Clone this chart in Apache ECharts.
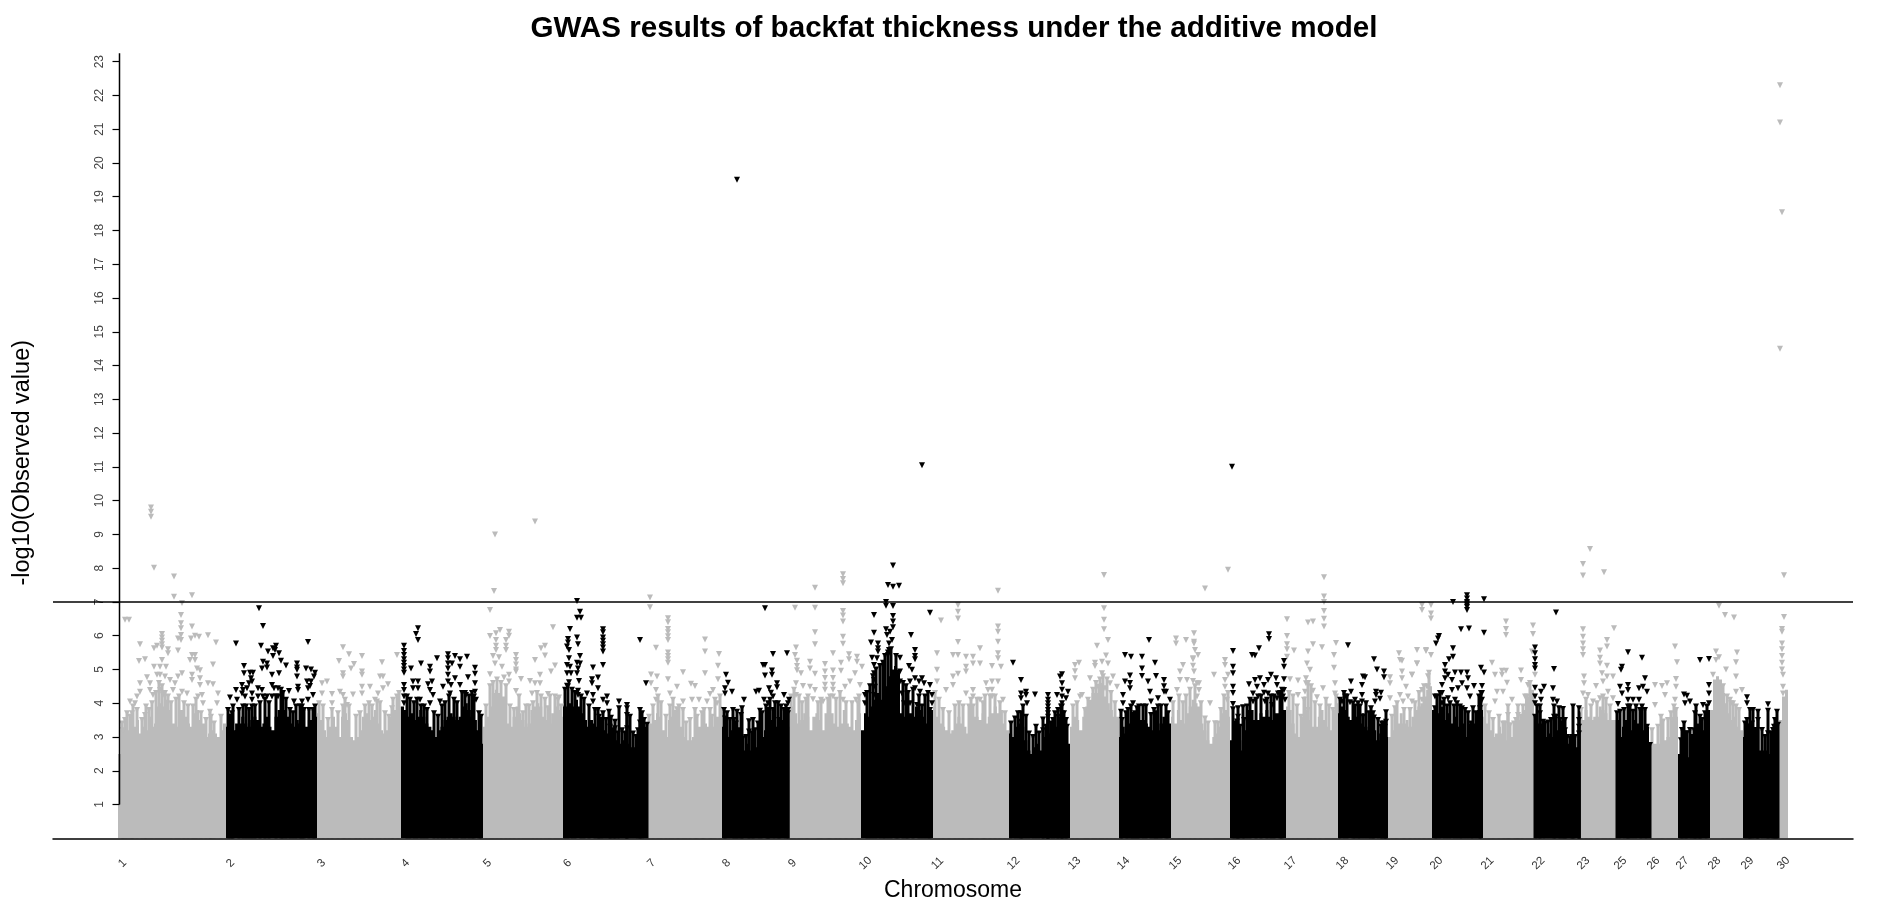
<!DOCTYPE html>
<html><head><meta charset="utf-8">
<style>html,body{margin:0;padding:0;background:#fff}#c{width:1883px;height:902px}</style>
<script src="https://cdn.jsdelivr.net/npm/echarts@6/dist/echarts.min.js"></script>
</head><body><div id="c"></div>
<script>
const chrNames=['1','2','3','4','5','6','7','8','9','10','11','12','13','14','15','16','17','18','19','20','21','22','23','25','26','27','28','29','30'];
const chrLengths=[108,91,84,82,80,84,75,66,73,72,76,61,49,52,59,56,52,50,44,51,51,45,37,33,29,32,33,36,9];
const yTicks=[1,2,3,4,5,6,7,8,9,10,11,12,13,14,15,16,17,18,19,20,21,22,23];
const threshold=7;

const chr1Tops=[2.5,2.8,3.0,3.2,3.0,3.3,3.5,3.1,3.3,3.2,3.6,3.3,3.4,3.9,4.0,3.9,4.1,3.8,3.4,3.3,3.8,3.8,3.6,3.4,3.3,3.7,3.8,3.5,3.4,3.0,3.1,3.2,3.1,3.0,3.2,3.4];
const chr1Hits=[[33,9.8],[33,9.67],[33,9.52],[36,8.01],[56,7.75],[56,7.15],[74,7.2],[64,6.97],[7,6.47],[11,6.47],[22,5.75],[21,5.25],[27,5.3],[36,5.63],[39,5.7],[44,6.05],[44,5.95],[44,5.85],[44,5.75],[44,5.65],[50,5.6],[50,5.48],[36,5.08],[44,5.28],[42,5.08],[48,5.08],[29,4.77],[39,4.84],[42,4.84],[47,4.79],[22,4.59],[32,4.59],[52,4.69],[57,4.59],[64,4.89],[60,4.79],[63,6.61],[63,6.37],[63,6.22],[63,6.02],[60,5.92],[63,5.87],[60,5.56],[74,6.27],[73,5.92],[77,6.0],[81,5.97],[90,6.01],[98,5.8],[95,5.15],[74,5.43],[77,5.43],[72,5.28],[77,5.28],[74,4.84],[79,5.03],[82,4.98],[82,4.74],[74,4.69],[82,4.54],[90,4.59],[95,4.56],[100,4.29],[80,4.2],[84,4.24],[85,4.0],[99,4.0],[92,3.75],[12,4.05],[19,4.2],[22,4.34],[32,4.39],[35,4.24],[42,4.39],[45,4.24],[55,4.39],[64,4.34],[69,4.29],[7,3.5],[14,3.7],[17,4.0],[27,3.65],[5,3.2]];
const chr1Dense=[[4,3.4],[9,3.7],[12,3.6],[15,3.9],[19,3.8],[24,3.5],[28,3.9],[31,3.8],[34,4.0],[38,4.3],[41,4.6],[44,4.5],[47,4.3],[50,4.2],[53,4.0],[58,4.1],[61,4.2],[66,4.0],[70,3.9],[75,3.9],[78,4.1],[83,3.7],[88,3.5],[93,3.6],[96,3.4],[103,3.6]];
const chr2Tops=[3.3,3.5,3.2,3.4,3.4,3.6,3.4,3.3,3.5,3.6,3.5,3.3,3.4,3.6,3.3,3.2,3.6,3.8,3.9,3.8,3.6,3.4,3.3,3.5,3.4,3.2,3.3,3.5,3.5,3.6];
const chr2Hits=[[10,5.77],[33,6.81],[37,6.29],[35,5.7],[82,5.81],[18,5.1],[18,4.89],[24,4.9],[27,4.9],[25,4.74],[26,4.64],[23,4.59],[4,4.17],[10,4.39],[16,4.54],[17,4.39],[21,4.44],[16,4.29],[19,4.2],[11,4.1],[7,3.9],[4,3.6],[17,3.9],[26,4.29],[26,4.1],[26,3.9],[37,5.23],[41,5.18],[36,5.03],[41,5.06],[42,5.53],[47,5.63],[50,5.7],[49,5.58],[53,5.48],[47,5.4],[55,5.26],[60,5.12],[46,4.84],[53,4.89],[71,5.18],[71,5.06],[71,4.99],[71,4.79],[72,4.49],[72,4.39],[80,5.03],[85,5.0],[89,4.9],[88,4.79],[81,4.64],[85,4.64],[82,4.44],[84,4.51],[82,4.1],[87,4.24],[32,4.44],[36,4.39],[37,4.2],[32,4.2],[41,4.2],[46,4.54],[48,4.44],[52,4.44],[52,4.2],[46,4.2],[68,4.05],[76,4.05],[76,3.9],[63,4.36]];
const chr2Dense=[[2,3.8],[6,3.7],[13,3.8],[20,3.9],[23,3.8],[29,3.9],[34,4.0],[39,4.1],[43,4.0],[50,4.2],[55,4.4],[57,4.3],[60,4.1],[64,3.8],[67,3.7],[70,3.9],[74,3.9],[78,3.8],[83,3.8],[87,3.8],[89,3.9]];
const chr3Tops=[3.7,3.5,3.2,3.0,3.3,3.6,3.3,3.0,3.6,3.7,3.5,3.0,2.9,3.0,3.2,3.6,3.7,3.5,3.6,3.8,3.4,3.2,3.1,3.2,3.6,3.8,3.8,3.9];
const chr3Hits=[[26,5.66],[32,5.45],[22,5.25],[45,5.4],[37,5.16],[34,5.03],[65,5.21],[80,5.43],[10,4.64],[5,4.59],[26,4.89],[26,4.79],[45,4.94],[45,4.84],[63,4.79],[66,4.79],[71,4.56],[5,4.29],[15,4.27],[23,4.34],[26,4.24],[36,4.26],[45,4.49],[53,4.49],[61,4.29],[45,4.29],[58,4.1],[66,4.44],[75,3.85],[26,3.9],[30,3.95],[15,4.0]];
const chr3Dense=[[2,4.0],[6,3.9],[11,3.5],[15,3.8],[21,3.7],[28,4.1],[32,3.9],[39,3.6],[43,3.7],[48,3.9],[52,4.0],[55,3.9],[60,4.05],[63,4.0],[68,3.7],[72,3.6],[76,4.1],[80,4.2],[82,4.3]];
const chr4Tops=[3.9,3.8,3.6,3.7,3.5,3.6,3.8,3.6,3.4,3.3,3.2,3.0,3.2,3.3,3.5,3.6,3.7,3.6,3.5,3.6,3.9,4.0,3.8,3.6,3.5,3.2,2.8];
const chr4Hits=[[3,5.7],[3,5.55],[3,5.43],[3,5.3],[3,5.2],[3,5.1],[3,5.0],[3,4.9],[3,4.54],[3,4.39],[3,4.2],[3,4.0],[17,6.22],[15,6.05],[17,5.87],[20,5.18],[10,5.03],[12,4.64],[17,4.64],[12,4.44],[17,4.44],[29,5.08],[29,4.94],[36,5.33],[47,5.45],[47,5.33],[54,5.4],[59,5.3],[66,5.38],[51,5.18],[47,5.18],[59,5.08],[74,5.05],[74,4.87],[74,4.59],[67,4.77],[47,5.03],[47,4.84],[47,4.64],[50,4.54],[54,4.74],[59,4.54],[31,4.64],[27,4.56],[29,4.39],[32,4.24],[42,4.49],[39,4.05],[49,4.29],[65,4.24],[74,4.34],[75,4.1],[19,4.1],[29,4.0]];
const chr4Dense=[[6,4.2],[9,4.1],[13,4.0],[16,4.1],[20,3.9],[23,3.9],[26,3.8],[33,3.7],[37,3.6],[41,3.9],[44,4.0],[48,4.2],[53,4.1],[56,4.0],[61,4.3],[64,4.3],[68,4.2],[71,4.3],[73,4.2],[78,3.7],[80,3.6]];
const chr5Tops=[3.3,3.6,3.9,4.3,4.4,4.3,4.2,4.2,3.4,3.3,3.6,3.9,3.7,3.5,3.3,3.4,3.8,3.9,4.0,3.9,3.6,3.5,3.4,3.7,3.9,3.8,3.6];
const chr5Hits=[[12,9.0],[11,7.32],[7,6.76],[17,6.17],[13,6.07],[7,5.99],[26,6.12],[26,6.0],[13,5.87],[13,5.7],[13,5.58],[23,5.87],[23,5.7],[23,5.58],[10,5.4],[16,5.36],[33,5.43],[33,5.28],[33,5.15],[33,5.0],[33,4.94],[12,5.18],[19,5.08],[7,4.86],[21,4.76],[26,4.84],[26,4.64],[38,4.72],[52,5.28],[58,5.63],[62,5.7],[62,5.41],[70,6.25],[68,4.94],[72,5.12],[47,4.66],[57,4.84],[57,4.59],[52,4.59],[33,4.36],[49,4.29],[65,4.27],[76,4.17],[40,3.7],[46,3.9],[65,3.85],[52,9.38]];
const chr5Dense=[[3,3.9],[7,4.5],[10,4.6],[14,4.7],[18,4.6],[23,4.5],[27,3.9],[31,3.8],[36,4.2],[43,3.9],[50,4.0],[54,4.3],[58,4.2],[62,4.1],[67,4.2],[72,4.2],[75,4.1],[78,3.9]];
const chr6Tops=[3.9,3.9,4.0,3.9,4.1,3.9,3.7,3.5,3.3,3.5,3.4,3.3,3.3,3.2,3.1,3.0,2.9,2.9,2.8,2.8,2.9,2.8,2.7,2.7,2.9,3.1,3.2,3.3];
const chr6Hits=[[14,7.03],[17,6.71],[14,6.53],[18,6.53],[7,6.2],[14,5.95],[15,5.75],[5,5.9],[5,5.8],[4,5.68],[6,5.58],[17,5.4],[6,5.33],[14,5.2],[17,5.18],[4,5.13],[7,5.08],[15,5.03],[4,4.89],[8,4.89],[14,4.89],[16,4.66],[6,4.62],[4,4.52],[15,4.37],[15,4.24],[40,6.19],[40,6.1],[40,5.95],[40,5.85],[40,5.75],[40,5.65],[40,5.53],[40,5.13],[77,5.87],[30,5.06],[35,4.76],[29,4.71],[29,4.59],[35,4.44],[24,4.29],[30,4.24],[40,4.1],[44,4.2],[44,4.0],[56,4.05],[64,3.95],[56,3.85],[64,3.85],[83,4.59],[77,3.8],[79,3.7],[35,3.8],[46,3.75],[64,3.65],[67,3.6],[40,3.7],[30,4.05],[52,3.45],[48,3.57],[64,3.26],[52,3.26],[77,3.43],[84,3.36]];
const chr6Dense=[[2,4.4],[5,4.5],[9,4.4],[12,4.3],[18,4.2],[21,4.1],[26,3.9],[32,3.8],[36,3.6],[38,3.5],[43,3.5],[47,3.3],[50,3.2],[55,3.1],[59,3.2],[62,3.1],[70,3.1],[73,3.0],[75,3.2],[81,3.5]];
const chr7Tops=[3.2,3.4,3.5,3.7,3.6,3.2,3.0,3.5,3.6,3.8,3.6,3.3,3.0,2.9,2.9,3.0,3.1,3.3,3.4,3.4,3.3,3.1,3.3,3.6,3.9];
const chr7Hits=[[3,7.13],[3,6.84],[21,6.52],[21,6.4],[21,6.2],[21,6.1],[21,5.98],[21,5.87],[21,5.5],[21,5.4],[21,5.3],[21,5.2],[9,5.64],[58,5.89],[58,5.53],[36,4.92],[4,4.85],[10,4.79],[4,4.59],[9,4.39],[21,4.71],[30,4.49],[44,4.58],[48,4.51],[58,4.89],[66,4.39],[63,4.27],[72,5.46],[71,5.11],[71,4.71],[9,4.1],[23,4.29],[36,4.05],[45,4.1],[52,4.1],[60,4.05],[70,4.0],[30,3.82],[36,3.8],[48,3.8],[63,3.8]];
const chr7Dense=[[2,3.6],[6,3.9],[11,4.2],[14,4.0],[19,3.6],[23,3.9],[26,4.1],[32,3.9],[39,3.4],[43,3.5],[50,3.6],[55,3.7],[57,3.8],[65,3.6],[68,4.1],[73,4.2]];
const chr8Tops=[3.3,3.3,3.0,3.2,2.8,2.7,2.7,2.6,2.8,2.6,2.5,2.7,2.9,3.0,3.2,3.4,3.5,3.4,3.3,3.4,3.5,3.2];
const chr8Hits=[[15,19.5],[43,6.81],[4,4.84],[6,4.61],[3,4.44],[3,4.29],[10,4.34],[51,5.46],[65,5.48],[41,5.13],[43,5.13],[43,4.82],[50,4.97],[50,4.84],[55,4.59],[55,4.47],[47,4.44],[34,4.34],[37,4.37],[49,4.31],[22,4.1],[51,4.2],[62,4.24],[67,4.1],[42,4.1],[2,3.8],[11,3.8],[15,3.75],[20,3.85],[19,3.65],[3,3.55],[12,3.5],[27,3.47],[31,3.5],[38,3.78],[46,4.0],[46,3.8],[46,3.6],[66,4.0],[66,3.8],[66,3.7],[51,3.8],[57,3.5],[27,3.16],[21,2.96]];
const chr8Dense=[[5,3.7],[8,3.5],[14,3.4],[17,3.2],[24,3.0],[30,3.1],[33,3.2],[36,3.4],[40,3.7],[44,3.9],[48,4.1],[53,4.0],[56,4.0],[59,3.9],[62,3.8],[64,3.9]];
const chr9Tops=[3.3,3.9,3.7,3.4,3.5,3.7,3.6,3.2,3.6,3.7,3.5,3.2,3.7,3.9,3.7,3.4,3.3,3.4,3.8,3.4,3.3,3.2,3.5,3.7];
const chr9Hits=[[7,6.83],[27,7.42],[27,6.83],[27,6.1],[27,5.75],[55,7.82],[55,7.68],[55,7.55],[55,6.73],[55,6.6],[55,6.42],[55,5.97],[55,5.76],[8,5.65],[7,5.43],[9,5.26],[9,5.1],[9,4.98],[22,5.23],[22,5.03],[45,5.48],[37,5.16],[53,5.2],[61,5.45],[61,5.3],[69,5.38],[69,5.23],[74,5.08],[37,4.94],[37,4.75],[37,4.55],[37,4.4],[45,4.97],[45,4.75],[45,4.55],[45,4.4],[13,4.89],[27,4.87],[53,4.96],[67,4.89],[8,4.59],[15,4.51],[22,4.49],[27,4.39],[57,4.49],[62,4.64],[72,4.54],[8,4.24],[25,4.12],[35,4.05],[45,4.2],[55,4.1],[68,4.1]];
const chr9Dense=[[3,4.2],[6,4.4],[11,4.2],[14,4.0],[18,4.1],[20,4.2],[30,4.0],[33,4.1],[40,4.1],[42,4.2],[48,4.1],[52,4.3],[58,4.0],[64,4.0],[70,4.0],[71,4.2]];
const chr10Tops=[3.2,3.7,3.6,3.9,4.1,4.3,4.1,4.3,4.5,4.8,5.0,5.1,4.9,3.7,3.6,3.9,3.7,3.6,3.9,3.8,3.6,3.4,3.7,3.8];
const chr10Hits=[[32,8.08],[27,7.5],[32,7.45],[38,7.48],[25,7.0],[25,6.89],[32,6.88],[32,6.58],[13,6.61],[69,6.68],[32,6.42],[32,6.25],[25,6.19],[29,6.12],[13,6.09],[50,6.02],[26,6.02],[10,5.8],[31,5.87],[17,5.77],[17,5.63],[17,5.53],[28,5.77],[28,5.58],[54,5.58],[54,5.4],[54,5.3],[39,5.35],[11,5.35],[16,5.33],[13,5.13],[13,4.89],[27,5.43],[48,5.1],[51,4.99],[39,4.94],[39,4.64],[69,4.54],[61,4.74],[63,4.59],[54,4.74],[58,4.64],[49,4.64],[54,4.44],[59,4.34],[71,4.24],[71,4.0],[4,4.24],[4,4.0],[13,4.69],[14,4.49],[13,4.24],[49,4.0],[56,3.95],[61,3.9],[69,3.8],[41,4.29],[43,4.0],[61,11.05]];
const chr10Dense=[[6,4.3],[9,4.5],[12,4.8],[15,5.0],[19,5.1],[22,5.2],[24,5.4],[27,5.5],[30,5.6],[35,5.4],[37,4.9],[42,4.6],[45,4.5],[47,4.3],[52,4.4],[58,4.2],[64,4.2],[67,4.3]];
const chr11Tops=[3.9,3.6,3.4,3.3,3.2,3.1,3.2,3.4,3.6,3.4,3.3,3.1,3.5,3.6,3.6,3.5,3.7,3.4,3.6,3.7,3.9,3.7,3.8,3.4,3.2];
const chr11Hits=[[25,6.91],[25,6.71],[25,6.51],[8,6.45],[25,5.81],[65,7.33],[65,6.27],[65,6.12],[65,5.82],[65,5.48],[65,5.33],[4,5.48],[4,4.99],[20,5.43],[25,5.43],[33,5.38],[40,5.38],[40,5.18],[47,5.63],[47,5.18],[59,5.1],[68,5.08],[33,5.08],[33,4.94],[25,4.87],[20,4.79],[20,4.54],[13,4.39],[4,4.64],[53,4.59],[59,4.64],[59,4.4],[59,4.2],[65,4.64],[70,4.1],[40,4.39],[40,4.2],[40,3.9],[33,4.29],[47,4.1],[55,4.39]];
const chr11Dense=[[2,4.3],[6,4.1],[10,3.8],[16,3.7],[22,3.9],[26,4.0],[30,3.9],[36,3.9],[38,4.1],[44,4.1],[50,4.0],[52,4.2],[57,4.2],[62,4.2],[67,4.0],[72,3.7]];
const chr12Tops=[3.1,3.0,3.3,3.4,3.3,2.9,2.6,2.5,2.7,2.8,2.6,3.0,2.9,3.1,3.0,3.3,3.6,3.5,3.2,2.8];
const chr12Hits=[[4,5.2],[12,4.69],[12,4.29],[12,4.15],[17,4.34],[17,4.24],[18,4.0],[26,4.26],[39,4.24],[39,4.1],[39,4.0],[39,3.9],[39,3.8],[39,3.7],[39,3.6],[48,4.24],[51,4.79],[53,4.86],[53,4.59],[53,4.4],[53,4.2],[53,4.0],[53,3.9],[53,3.7],[59,4.34],[57,4.15],[57,3.5],[12,3.7],[6,3.55],[12,3.45],[34,3.52],[27,3.3],[34,3.2],[49,3.8],[49,3.6],[44,3.5]];
const chr12Dense=[[2,3.4],[9,3.7],[14,3.9],[17,3.6],[20,3.1],[24,3.0],[30,3.1],[37,3.3],[42,3.4],[46,3.7],[52,3.9],[55,3.7],[58,3.3]];
const chr13Tops=[3.3,3.6,3.5,3.2,3.6,3.9,4.1,4.3,4.3,4.5,4.6,4.2,4.0,3.8,3.6,3.6];
const chr13Hits=[[9,5.2],[5,5.13],[5,4.95],[5,4.74],[12,4.24],[20,4.74],[27,5.7],[36,5.41],[34,6.81],[34,6.47],[34,6.19],[38,5.87],[25,5.2],[25,5.1],[32,5.23],[32,4.89],[38,5.18],[43,4.79],[40,4.59],[34,7.8],[28,4.49],[35,4.44],[10,4.2],[47,4.49]];
const chr13Dense=[[3,3.9],[7,4.0],[15,3.8],[18,4.1],[23,4.4],[26,4.6],[30,4.7],[33,4.8],[37,4.7],[41,4.3],[45,4.0]];
const chr14Tops=[3.0,3.3,3.1,3.4,3.3,3.3,3.4,3.5,3.5,3.4,3.3,3.2,3.4,3.2,3.4,3.6,3.7,3.4];
const chr14Hits=[[30,5.87],[6,5.43],[12,5.38],[23,5.38],[36,5.2],[23,5.03],[23,4.81],[11,4.82],[11,4.6],[11,4.44],[6,4.64],[29,4.64],[37,4.81],[31,4.34],[45,4.69],[45,4.5],[45,4.34],[4,4.24],[4,4.0],[47,4.34],[51,4.1],[39,4.15],[39,3.9],[32,4.05],[32,3.65],[14,4.0],[2,3.75],[7,3.7],[18,3.85],[49,3.7],[37,3.7],[14,3.65]];
const chr14Dense=[[3,3.5],[9,3.8],[12,3.9],[16,3.7],[20,3.9],[24,3.9],[27,3.9],[35,3.8],[42,3.9],[47,3.9]];
const chr15Tops=[3.6,3.4,3.8,3.5,3.4,3.7,3.9,4.1,4.0,3.9,3.4,3.2,2.9,2.8,3.0,3.1,3.3,3.7,3.8,3.6];
const chr15Hits=[[5,5.92],[5,5.77],[15,5.87],[23,6.07],[23,5.77],[27,5.43],[12,5.13],[22,5.3],[9,4.94],[9,4.69],[16,4.69],[26,4.59],[6,4.39],[23,5.82],[24,5.58],[22,5.33],[22,5.11],[23,4.94],[22,4.66],[28,4.59],[28,4.39],[26,4.2],[39,4.0],[34,3.55],[43,4.84],[54,5.28],[54,5.13],[57,4.84],[54,4.69],[54,4.49],[56,4.1],[44,3.41],[34,7.4],[57,7.95]];
const chr15Dense=[[2,4.0],[8,4.2],[12,4.0],[15,4.2],[19,4.4],[24,4.5],[30,4.0],[37,3.4],[47,3.4],[50,3.8],[53,4.2],[57,4.3]];
const chr16Tops=[2.9,3.0,2.7,2.6,2.9,3.2,3.8,3.8,3.5,3.5,3.7,3.6,3.8,3.6,3.5,3.7,3.7,3.8,3.8];
const chr16Hits=[[2,11.0],[3,5.55],[3,5.08],[3,4.89],[3,4.49],[3,4.3],[3,3.98],[3,3.82],[8,3.85],[8,3.6],[13,3.88],[22,5.43],[25,5.41],[29,5.63],[39,6.04],[39,5.9],[41,4.84],[46,4.74],[54,5.25],[54,5.08],[54,4.71],[54,4.39],[19,4.56],[25,4.69],[30,4.74],[27,4.49],[38,4.69],[34,4.54],[47,4.54],[23,4.29],[28,4.2],[34,4.31],[38,4.29],[48,4.29],[53,4.2],[23,4.05],[35,4.05],[47,4.15],[42,3.95],[55,4.1],[7,3.46]];
const chr16Dense=[[5,3.4],[10,3.3],[14,3.5],[17,3.9],[20,4.1],[26,4.1],[31,4.2],[37,4.1],[41,4.2],[44,4.2],[50,4.3],[52,4.4]];
const chr17Tops=[3.9,3.8,3.4,3.1,3.0,3.6,4.2,3.8,3.5,3.3,3.3,3.6,3.8,3.5,3.3,3.2,3.8,4.0];
const chr17Hits=[[38,7.73],[38,7.16],[38,7.0],[38,6.73],[38,6.5],[38,6.27],[1,6.49],[1,5.99],[1,5.75],[1,5.6],[1,5.38],[8,5.56],[22,6.39],[27,6.42],[27,5.75],[22,5.53],[36,5.66],[50,5.78],[21,5.18],[24,4.99],[48,5.43],[48,5.05],[4,4.71],[12,4.67],[20,4.74],[20,4.59],[49,4.59],[19,4.34],[27,4.37],[31,4.18],[37,4.44],[12,4.24],[49,4.29],[22,3.8]];
const chr17Dense=[[3,4.3],[7,4.2],[11,3.9],[15,3.6],[18,4.1],[22,4.6],[25,4.5],[29,4.0],[34,3.9],[40,4.1],[43,3.9],[47,3.8],[50,4.2]];
const chr18Tops=[3.7,3.9,3.8,3.6,3.5,3.6,3.6,3.4,3.7,3.3,3.2,3.4,3.2,2.9,3.1,2.9,3.0];
const chr18Hits=[[10,5.72],[36,5.3],[39,5.0],[46,4.94],[46,4.77],[25,4.79],[27,4.77],[13,4.64],[13,4.34],[24,4.54],[24,4.24],[38,4.34],[43,4.31],[38,4.24],[7,4.2],[4,4.05],[12,4.03],[17,4.1],[17,3.9],[24,4.05],[42,4.13],[37,4.05],[33,3.85],[48,3.73],[25,3.6],[36,3.58],[48,3.45],[47,3.3],[43,3.3]];
const chr18Dense=[[2,4.1],[6,4.3],[9,4.2],[15,4.0],[20,4.0],[22,3.9],[28,4.0],[31,3.7],[35,3.7],[40,3.5],[44,3.4],[46,3.4]];
const chr19Tops=[3.0,3.2,3.5,3.4,3.7,3.4,3.5,3.3,3.6,3.8,3.9,4.0,4.2,4.4,4.5];
const chr19Hits=[[2,4.77],[2,4.59],[11,5.48],[12,5.28],[14,5.26],[14,4.94],[14,4.74],[24,4.84],[29,5.58],[29,5.18],[38,5.55],[18,4.49],[12,4.24],[2,4.15],[20,4.2],[34,4.39],[34,4.1],[40,4.8],[40,4.5],[7,3.85],[24,4.05],[15,4.05],[34,6.91],[34,6.76],[43,6.91],[43,6.66],[43,6.51],[38,5.58],[43,5.43],[29,5.18],[24,4.84],[39,4.49]];
const chr19Dense=[[4,3.6],[9,4.0],[16,3.8],[22,3.8],[27,4.0],[31,4.3],[36,4.5],[41,4.9]];
const chr20Tops=[3.8,3.9,3.7,3.9,3.5,3.7,3.4,3.6,3.3,3.5,3.4,3.0,3.4,2.9,3.4,3.8,3.8];
const chr20Hits=[[35,7.2],[35,7.1],[35,7.0],[35,6.95],[35,6.9],[35,6.85],[35,6.76],[21,7.0],[52,7.08],[29,6.19],[37,6.21],[52,6.09],[7,5.99],[4,5.77],[6,5.92],[21,5.63],[21,5.38],[17,5.3],[13,5.13],[49,5.05],[52,4.91],[13,4.94],[13,4.74],[23,4.91],[29,4.91],[35,4.91],[36,4.74],[16,4.84],[20,4.69],[30,4.59],[26,4.44],[35,4.44],[42,4.51],[50,4.51],[50,4.3],[50,4.1],[10,4.54],[10,4.3],[10,4.0],[20,4.39],[3,4.2],[3,3.85],[16,4.15],[38,4.2],[23,4.1],[30,3.85],[15,3.9],[41,3.85],[48,3.85]];
const chr20Dense=[[5,4.2],[8,4.3],[12,4.1],[18,4.0],[22,3.9],[25,4.0],[28,3.9],[33,3.8],[36,3.7],[39,3.4],[44,3.7],[47,4.2],[49,4.3]];
const chr21Tops=[3.6,3.4,3.2,3.0,3.1,3.3,3.1,2.9,3.2,3.0,3.0,3.2,3.5,3.8,4.2,4.2,4.4];
const chr21Hits=[[23,6.42],[23,6.2],[23,6.02],[9,5.2],[12,4.84],[19,4.96],[19,4.84],[23,4.96],[38,4.97],[50,6.3],[50,6.05],[49,5.53],[52,4.84],[38,4.69],[24,4.61],[14,4.34],[20,4.34],[29,4.1],[12,4.05],[25,3.9],[25,3.65],[35,3.9],[35,3.65],[45,4.54],[42,4.2],[49,4.2],[20,3.4],[27,3.35]];
const chr21Dense=[[2,3.9],[6,3.7],[10,3.5],[16,3.6],[22,3.4],[31,3.4],[33,3.5],[38,3.6],[40,3.9],[44,4.2],[47,4.6]];
const chr22Tops=[3.6,3.4,3.4,3.1,3.0,3.1,3.0,3.2,3.2,2.9,3.2,2.8,2.7,2.6,2.7];
const chr22Hits=[[22,6.69],[1,5.65],[1,5.48],[1,5.3],[1,5.13],[1,5.03],[20,5.01],[1,4.46],[10,4.49],[19,4.44],[7,4.34],[7,4.1],[19,4.1],[23,4.05],[1,4.2],[1,4.0],[1,3.6],[25,3.85],[29,3.83],[39,3.9],[45,3.85],[45,3.5],[45,3.3],[45,3.1],[20,3.9],[20,3.6],[6,3.7],[14,3.43],[9,3.45],[31,3.5],[31,3.2],[36,2.96],[39,2.76]];
const chr22Dense=[[3,3.9],[6,3.9],[11,3.4],[17,3.5],[22,3.6],[26,3.5],[28,3.4],[33,3.0],[38,3.0],[41,3.0]];
const chr23Tops=[3.1,3.5,3.8,3.6,3.5,3.6,3.6,3.9,3.8,3.7,3.5,3.5,3.5];
const chr23Hits=[[4,8.12],[4,7.78],[25,7.88],[11,8.57],[4,6.19],[4,5.97],[35,6.22],[4,5.77],[4,5.6],[4,5.43],[28,5.87],[28,5.68],[21,5.56],[21,5.35],[21,5.18],[28,5.11],[5,4.79],[5,4.59],[23,4.89],[28,4.79],[34,4.79],[24,4.64],[17,4.51],[4,4.29],[9,4.24],[21,4.15],[29,4.34],[34,4.15],[14,4.05]];
const chr23Dense=[[2,3.8],[7,4.1],[12,3.9],[18,4.0],[24,4.2],[27,4.1],[31,3.9]];
const chr25Tops=[3.5,3.0,3.3,3.5,3.3,3.2,3.5,3.4,3.4,3.2,3.3];
const chr25Hits=[[12,5.51],[26,5.35],[6,5.08],[5,4.99],[29,4.74],[12,4.54],[12,4.39],[4,4.49],[6,4.29],[27,4.49],[31,4.34],[23,4.44],[23,4.1],[2,3.98],[12,4.1],[12,3.9],[17,4.1],[4,3.75],[26,3.9],[17,3.75],[11,3.4],[34,2.76],[31,3.3]];
const chr25Dense=[[1,3.7],[8,3.8],[14,3.9],[20,3.9],[24,3.8],[29,3.8]];
const chr26Tops=[2.7,2.8,2.8,2.8,2.9,2.9,3.0,3.0,3.3,3.6];
const chr26Hits=[[26,5.68],[28,5.21],[6,4.54],[13,4.51],[18,4.59],[27,4.72],[27,4.49],[6,3.95],[16,4.24],[26,4.1],[14,3.46],[23,3.5],[27,3.8]];
const chr26Dense=[[3,3.2],[9,3.3],[12,3.6],[19,3.5],[22,3.7],[25,3.9]];
const chr27Tops=[2.5,2.7,2.5,2.4,2.7,2.6,2.8,2.9,3.2,3.4,3.8];
const chr27Hits=[[22,5.28],[31,5.31],[31,4.54],[31,4.29],[6,4.26],[9,4.22],[18,3.9],[7,4.0],[12,4.05],[25,3.95],[31,4.0],[17,3.7],[4,3.21],[6,3.4],[12,3.21],[22,3.6],[22,3.3],[9,3.11]];
const chr27Dense=[[3,2.9],[8,3.1],[14,3.0],[16,3.2],[20,3.3],[24,3.5],[27,3.7],[29,3.9]];
const chr28Tops=[3.8,4.7,4.8,4.7,4.3,4.0,3.7,3.5,3.6,3.3,3.2];
const chr28Hits=[[9,6.89],[15,6.61],[24,6.54],[6,5.53],[9,5.36],[6,5.28],[27,5.5],[26,5.21],[16,5.0],[26,4.79],[3,4.84],[32,4.39],[26,4.34],[21,4.0],[26,3.9]];
const chr28Dense=[[13,4.5],[17,4.2],[20,4.1],[23,4.0],[29,3.8]];
const chr29Tops=[3.0,3.1,2.9,2.9,2.7,2.6,2.6,2.6,2.5,2.7,2.8,2.9];
const chr29Hits=[[4,4.18],[4,4.0],[25,3.97],[25,3.78],[7,3.8],[10,3.8],[15,3.75],[15,3.5],[34,3.75],[4,3.5],[32,3.5],[12,3.21],[19,3.21],[25,3.11],[35,3.36],[7,3.31],[30,3.21]];
const chr29Dense=[[2,3.4],[6,3.3],[9,3.4],[14,3.2],[22,3.0],[28,3.1],[31,3.3],[33,3.3]];
const chr30Tops=[3.5,4.2,4.4];
const chr30Hits=[[1,22.3],[1,21.2],[3,18.54],[1,14.5],[5,7.79],[5,6.55],[3,6.2],[3,6.12],[3,5.77],[3,5.6],[3,5.4],[3,5.2],[3,5.0],[4,4.84],[4,4.49],[4,4.29]];
const chr30Dense=[];

const allTops=[chr1Tops,chr2Tops,chr3Tops,chr4Tops,chr5Tops,chr6Tops,chr7Tops,chr8Tops,chr9Tops,chr10Tops,chr11Tops,chr12Tops,chr13Tops,chr14Tops,chr15Tops,chr16Tops,chr17Tops,chr18Tops,chr19Tops,chr20Tops,chr21Tops,chr22Tops,chr23Tops,chr25Tops,chr26Tops,chr27Tops,chr28Tops,chr29Tops,chr30Tops];
const allHitsOnly=[chr1Hits,chr2Hits,chr3Hits,chr4Hits,chr5Hits,chr6Hits,chr7Hits,chr8Hits,chr9Hits,chr10Hits,chr11Hits,chr12Hits,chr13Hits,chr14Hits,chr15Hits,chr16Hits,chr17Hits,chr18Hits,chr19Hits,chr20Hits,chr21Hits,chr22Hits,chr23Hits,chr25Hits,chr26Hits,chr27Hits,chr28Hits,chr29Hits,chr30Hits];
const allDense=[chr1Dense,chr2Dense,chr3Dense,chr4Dense,chr5Dense,chr6Dense,chr7Dense,chr8Dense,chr9Dense,chr10Dense,chr11Dense,chr12Dense,chr13Dense,chr14Dense,chr15Dense,chr16Dense,chr17Dense,chr18Dense,chr19Dense,chr20Dense,chr21Dense,chr22Dense,chr23Dense,chr25Dense,chr26Dense,chr27Dense,chr28Dense,chr29Dense,chr30Dense];

const GREY='#BBBBBB',BLACK='#000000';
const starts=[];let acc=0;
chrLengths.forEach(l=>{starts.push(acc);acc+=l;});
const labelShift=4.5;
const labelPos=starts.map(s=>s+labelShift);
const nameAt=new Map(labelPos.map((p,i)=>[p,chrNames[i]]));

const series=[];
allTops.forEach((tops,i)=>{
  const w=chrLengths[i]/tops.length;
  const d=tops.map((v,k)=>[starts[i]+k*w,v]);
  d.push([starts[i]+chrLengths[i],tops[tops.length-1]]);
  const col=i%2?BLACK:GREY;
  series.push({name:'Chr'+chrNames[i]+' mass',type:'line',step:'end',data:d,symbol:'none',silent:true,
    lineStyle:{width:0,color:col},itemStyle:{color:col},areaStyle:{color:col,opacity:1},z:2});
});
[0,1].forEach(c=>{
  const cols=[];
  allDense.forEach((h,i)=>{if(i%2===c)h.forEach(p=>cols.push([starts[i]+p[0],p[1]]));});
  allHitsOnly.forEach((h,i)=>{if(i%2===c)h.forEach(p=>{if(p[1]<=3.9)cols.push([starts[i]+p[0],p[1]]);});});
  series.push({name:(c?'even':'odd')+' dense columns',type:'bar',data:cols,barWidth:3,barGap:'-100%',silent:true,
    itemStyle:{color:c?BLACK:GREY},z:2});
  const d=[];
  allHitsOnly.forEach((h,i)=>{if(i%2===c)h.forEach(p=>d.push([starts[i]+p[0],p[1]]));});
  allDense.forEach((h,i)=>{if(i%2===c)h.forEach(p=>d.push([starts[i]+p[0],p[1]]));});
  series.push({name:c?'even chromosomes':'odd chromosomes',type:'scatter',data:d,symbol:'triangle',symbolRotate:180,symbolSize:6,
    itemStyle:{color:c?BLACK:GREY,opacity:1},z:c?4:3,silent:true});
});
series.push({name:'axis spine',type:'line',data:[[1.5,1],[1.5,23.25]],symbol:'none',silent:true,clip:false,lineStyle:{color:'#000',width:1.5},z:6});
series.push({name:'threshold',type:'line',data:[[-65,threshold],[1735,threshold]],symbol:'none',silent:true,lineStyle:{color:'#000',width:1.5},z:6});

const chart=echarts.init(document.getElementById('c'),null,{renderer:'canvas',width:1883,height:902});
chart.setOption({
  animation:false,backgroundColor:'#fff',
  title:{text:'GWAS results of backfat thickness under the additive model',left:949,top:24,textAlign:'center',textVerticalAlign:'middle',
    textStyle:{fontFamily:'Liberation Sans',fontWeight:'bold',fontSize:29.6,color:'#000'}},
  tooltip:{show:false},
  grid:{left:53,right:30,top:53.2,bottom:63.7,containLabel:false,outerBoundsMode:'none'},
  xAxis:{type:'value',min:-65,max:1735,splitLine:{show:false},axisTick:{show:false},
    axisLine:{onZero:false,lineStyle:{color:'#000',width:1.5}},z:6,
    axisLabel:{customValues:labelPos,formatter:v=>nameAt.get(v)||'',rotate:45,align:'center',verticalAlign:'middle',margin:25,fontSize:11.5,color:'#333',fontFamily:'Liberation Sans',hideOverlap:false},
    name:'Chromosome',nameLocation:'middle',nameGap:35,nameTextStyle:{fontFamily:'Liberation Sans',fontSize:23,color:'#000'}},
  yAxis:{type:'value',min:0,max:23.25,offset:-66.5,splitLine:{show:false},axisLine:{show:false,onZero:false},
    axisTick:{show:true,length:7,customValues:yTicks,lineStyle:{color:'#000',width:1.2}},
    axisLabel:{customValues:yTicks,rotate:90,align:'center',verticalAlign:'middle',margin:20,fontSize:12,color:'#444',fontFamily:'Liberation Sans',hideOverlap:false},z:6,
    name:'-log10(Observed value)',nameLocation:'middle',nameGap:85,nameTextStyle:{fontFamily:'Liberation Sans',fontSize:23.5,color:'#000',padding:[0,34,0,0]}},
  series
});
</script></body></html>
